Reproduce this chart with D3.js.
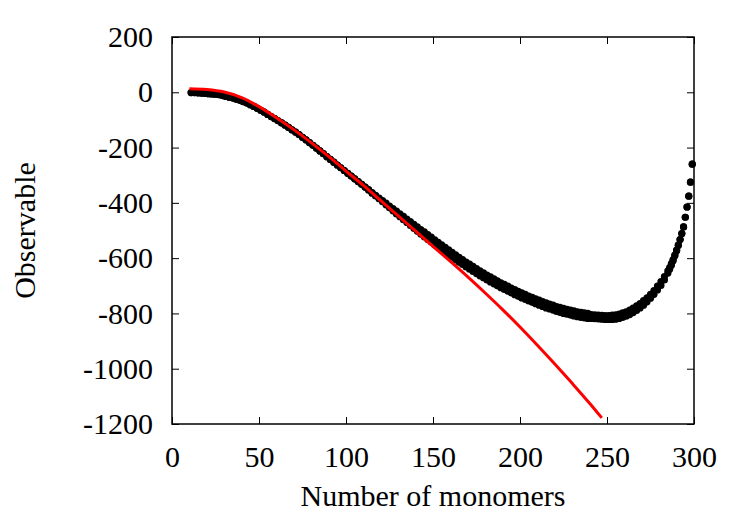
<!DOCTYPE html>
<html>
<head>
<meta charset="utf-8">
<script src="https://cdn.jsdelivr.net/npm/d3@7"></script>
<style>
  html, body { margin: 0; padding: 0; background: #fff; }
  svg text { font-family: "Liberation Serif", "Times New Roman", serif; fill: #000; }
</style>
</head>
<body>
<svg id="chart" width="750" height="525"></svg>
<script>
// ---- data ----
const monomers = [11,13,15,17,19,21,23,25,27,29,31,33,35,37,39,41,43,45,47,49,51,53,55,57,59,61,63,65,67,69,71,73,75,77,79,81,83,85,87,89,91,93,95,97,99,101,103,105,107,109,111,
  113,115,117,119,121,123,125,127,129,131,133,135,137,139,141,143,145,147,149,151,153,155,157,159,161,163,165,167,169,171,173,175,177,179,181,183,185,187,189,191,193,195,197,199,201,203,205,207,209,211,213,215,217,219,221,223,225,227,229,231,233,235,237,239,
  241,243,245,247,249,251,253,255,257,259,261,263,265,267,269,271,273,275,277,279,281,283,285,
  286,287,288,289,290,291,292,293,294,295,296,297,298,299];

const runA = [-1,-1,-2,-3,-4,-5,-6,-7,-9,-12,-15,-18,-21,-25,-29,-34,-39,-45,-51,-58,-65,-72,-80,-88,-95,-103,-111,-119,-127,-136,-144,-153,-163,-172,-182,-192,-202,-212,-222,-233,-243,-253,-263,-273,-283,-293,-303,-313,-323,-333,-343,
  -352,-363,-373,-383,-392,-401,-412,-421,-430,-440,-449,-459,-468,-478,-487,-497,-505,-515,-524,-534,-543,-552,-561,-570,-579,-588,-597,-605,-614,-622,-630,-638,-646,-653,-661,-668,-675,-682,-689,-695,-701,-708,-714,-720,-726,-731,-737,-742,-747,-752,-757,-762,-766,-770,-775,-778,-782,-785,-788,-791,-794,-796,-798,-800,
  -804,-805,-806,-807,-808,-808,-806,-805,-802,-798,-794,-788,-781,-773,-764,-754,-744,-731,-717,-701,-685,-667,-646,
  -634,-620,-605,-589,-571,-553,-533,-511,-487,-452,-415,-376,-325,-260];

const runB = [-1,-1,-2,-3,-4,-5,-6,-7,-9,-12,-15,-18,-21,-25,-29,-34,-39,-45,-51,-58,-65,-72,-80,-88,-95,-103,-111,-119,-127,-136,-144,-153,-163,-172,-182,-192,-202,-212,-222,-233,-243,-253,-263,-273,-283,-293,-303,-313,-323,-333,-343,
  -354,-365,-375,-385,-396,-407,-418,-429,-440,-450,-461,-471,-482,-492,-503,-513,-523,-533,-542,-552,-561,-570,-579,-588,-597,-606,-615,-623,-632,-640,-648,-656,-664,-671,-679,-686,-693,-700,-707,-713,-719,-726,-732,-738,-744,-749,-755,-760,-765,-770,-775,-780,-784,-788,-793,-796,-800,-803,-806,-809,-812,-814,-816,-818,
  -818,-819,-820,-821,-822,-822,-822,-821,-818,-814,-810,-804,-797,-789,-780,-770,-758,-745,-731,-715,-699,-679,-654,
  -640,-626,-609,-591,-573,-553,-533,-511,-487,-452,-415,-376,-325,-260];

const fitX = [10,20,30,40,50,60,70,80,90,100,110,120,130,140,150,160,170,180,190,200,210,220,230,240,247];
const fitY = [13,10,1,-19,-52,-92,-135,-182,-232,-285,-337,-392,-447,-502,-557,-612,-668,-726,-786,-849,-915,-983,-1053,-1125,-1178];

const xTicks = [0,50,100,150,200,250,300];
const yTicks = [-1200,-1000,-800,-600,-400,-200,0,200];

// ---- layout ----
const svg = d3.select("#chart");
const margin = { top: 37, right: 56, bottom: 101, left: 172 };
const w = 750 - margin.left - margin.right;
const h = 525 - margin.top - margin.bottom;
const g = svg.append("g").attr("transform", `translate(${margin.left},${margin.top})`);

const x = d3.scaleLinear().domain([0, 300]).range([0, w]);
const y = d3.scaleLinear().domain([-1200, 200]).range([h, 0]);

// ticks (inward, mirrored on all sides)
const tk = 7;
const styleAxis = sel => {
  sel.select(".domain").remove();
  sel.selectAll(".tick line").attr("stroke", "#000").attr("stroke-width", 1);
  sel.selectAll(".tick text").attr("font-size", 30).attr("fill", "#000")
    .attr("font-family", "'Liberation Serif', 'Times New Roman', serif");
};
g.append("g").attr("transform", `translate(0,${h})`)
  .call(d3.axisBottom(x).tickValues(xTicks).tickSize(-tk).tickPadding(22))
  .call(styleAxis);
g.append("g")
  .call(d3.axisTop(x).tickValues(xTicks).tickSize(-tk).tickFormat(""))
  .call(styleAxis);
g.append("g")
  .call(d3.axisLeft(y).tickValues(yTicks).tickSize(-tk).tickPadding(19).tickFormat(d => String(d)))
  .call(styleAxis);
g.append("g").attr("transform", `translate(${w},0)`)
  .call(d3.axisRight(y).tickValues(yTicks).tickSize(-tk).tickFormat(""))
  .call(styleAxis);

// data points
const pts = [];
monomers.forEach((m, i) => { pts.push([m, runA[i]]); pts.push([m, runB[i]]); });
g.append("g").selectAll("circle")
  .data(pts)
  .enter().append("circle")
  .attr("cx", d => x(d[0]))
  .attr("cy", d => y(d[1]))
  .attr("r", 3.6)
  .attr("fill", "#000");

// fit curve
const fit = fitX.map((v, i) => [v, fitY[i]]);
g.append("path")
  .datum(fit)
  .attr("fill", "none")
  .attr("stroke", "#ff0000")
  .attr("stroke-width", 3)
  .attr("d", d3.line().x(d => x(d[0])).y(d => y(d[1])).curve(d3.curveMonotoneX));

// frame
g.append("rect").attr("x", 0).attr("y", 0).attr("width", w).attr("height", h)
  .attr("fill", "none").attr("stroke", "#000").attr("stroke-width", 1.5);

// axis titles
svg.append("text")
  .attr("x", margin.left + w / 2).attr("y", 506)
  .attr("text-anchor", "middle").attr("font-size", 30)
  .text("Number of monomers");
svg.append("text")
  .attr("transform", `translate(35,${margin.top + h / 2}) rotate(-90)`)
  .attr("text-anchor", "middle").attr("font-size", 30)
  .text("Observable");
</script>
</body>
</html>
